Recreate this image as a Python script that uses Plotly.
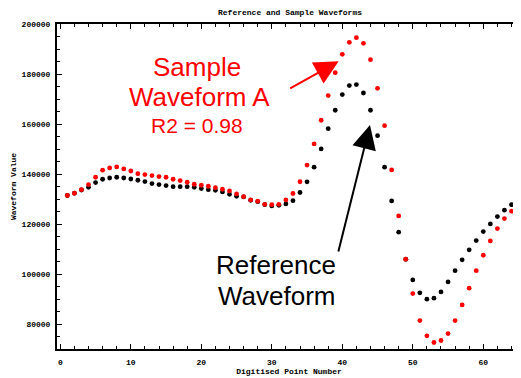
import plotly.graph_objects as go

point_numbers = list(range(1, 65))

reference_values = [
    131500, 132400, 133700, 134800, 136650, 138000, 138500, 138800, 138500, 138100,
    137600, 137050, 136250, 135850, 135450, 135050, 135050, 135050, 134800, 134300,
    133850, 133600, 132950, 132000, 131200, 130950, 129600, 129050, 127850, 127350,
    127600, 128150, 129450, 132700, 136950, 142800, 150100, 158200, 165550, 171800,
    175400, 175800, 172450, 165550, 155400, 142800, 129350, 116850, 106050, 97800,
    92650, 90100, 90500, 93000, 97000, 101500, 105800, 109800, 113500, 117100,
    120150, 123100, 125650, 127850,
]

sample_values = [
    131500, 132400, 133850, 135850, 138800, 141600, 142500, 142900, 142100, 141300,
    140200, 139850, 139450, 139050, 138800, 138000, 137450, 136800, 136000, 135600,
    135200, 134650, 134000, 133350, 132150, 131050, 129750, 129200, 128000, 127850,
    128000, 129750, 132300, 137000, 143650, 152100, 161550, 171400, 180550, 187900,
    192700, 194550, 192300, 185750, 174300, 159400, 141700, 123350, 106050, 92350,
    81550, 75450, 72800, 73600, 76350, 81550, 87800, 94500, 101500, 107650,
    113350, 118300, 122300, 125250,
]

x_ticks = [0, 10, 20, 30, 40, 50, 60]
y_ticks = [80000, 100000, 120000, 140000, 160000, 180000, 200000]
y_tick_labels = ["80000", "100000", "120000", "140000", "160000", "180000", "200000"]

mono = "Liberation Mono"
sans = "Liberation Sans, Arial"

# page has an 8px body margin, so the figure is offset by (8, 8)
OFF = 8

fig = go.Figure()
fig.add_trace(go.Scatter(x=point_numbers, y=reference_values, mode="markers",
                         marker=dict(color="black", size=4.8), name="Reference"))
fig.add_trace(go.Scatter(x=point_numbers, y=sample_values, mode="markers",
                         marker=dict(color="#ff0000", size=4.8), name="Sample A"))

axis_common = dict(
    showline=True, linecolor="black", linewidth=2, mirror="ticks",
    ticks="inside", ticklen=5, tickwidth=1, tickcolor="black",
    showgrid=False, zeroline=False, automargin=False,
    tickfont=dict(family=mono, size=8, color="black", weight="bold"),
)

fig.update_xaxes(range=[-0.47, 65.35], tickvals=x_ticks,
                 minor=dict(dtick=2, ticks="inside", ticklen=3, tickcolor="black", showgrid=False),
                 title=dict(text="Digitised Point Number",
                            font=dict(family=mono, size=8, color="black", weight="bold"),
                            standoff=1),
                 ticklabelstandoff=4,
                 **axis_common)
fig.update_yaxes(range=[70200, 200000], tickvals=y_ticks, ticktext=y_tick_labels,
                 minor=dict(dtick=5000, ticks="inside", ticklen=3, tickcolor="black", showgrid=False),
                 title=dict(text="Waveform Value",
                            font=dict(family=mono, size=8, color="black", weight="bold"),
                            standoff=4),
                 ticklabelstandoff=3,
                 **axis_common)

def px_to_x(px):
    return (px - 60.3) / 7.05

def py_to_y(py):
    return 200000 - (py - 24) * 399.2

texts = [
    ("Sample", 197, 67, 26, "#ff0000"),
    ("Waveform A", 199, 97.5, 26, "#ff0000"),
    ("R2 = 0.98", 197, 125.5, 21, "#ff0000"),
    ("Reference", 275.5, 265, 26, "black"),
    ("Waveform", 277, 296, 26, "black"),
]
for t, cx, cy, fs, col in texts:
    fig.add_annotation(x=px_to_x(cx), y=py_to_y(cy), xref="x", yref="y", text=t,
                       showarrow=False, xanchor="center", yanchor="middle",
                       font=dict(family=sans, size=fs, color=col))

# arrows
fig.add_annotation(x=px_to_x(338.7), y=py_to_y(61.3), xref="x", yref="y", text="",
                   showarrow=True, ax=-50, ay=28, arrowhead=2, arrowsize=2.4,
                   arrowwidth=2, arrowcolor="#ff0000")
fig.add_annotation(x=px_to_x(370), y=py_to_y(125), xref="x", yref="y", text="",
                   showarrow=True, ax=-32, ay=128, arrowhead=2, arrowsize=2.4,
                   arrowwidth=2, arrowcolor="black")

fig.update_layout(
    width=521 - OFF, height=378 - OFF,
    margin=dict(l=57 - OFF, r=0, t=24 - OFF, b=378 - 349),
    paper_bgcolor="white", plot_bgcolor="white",
    showlegend=False,
    title=dict(text="Reference and Sample Waveforms", x=(290 - OFF) / (521 - OFF), xanchor="center",
               y=1 - (12.5 - OFF) / (378 - OFF), yanchor="middle",
               font=dict(family=mono, size=8, color="black", weight="bold")),
)

fig.write_html("out.html")
